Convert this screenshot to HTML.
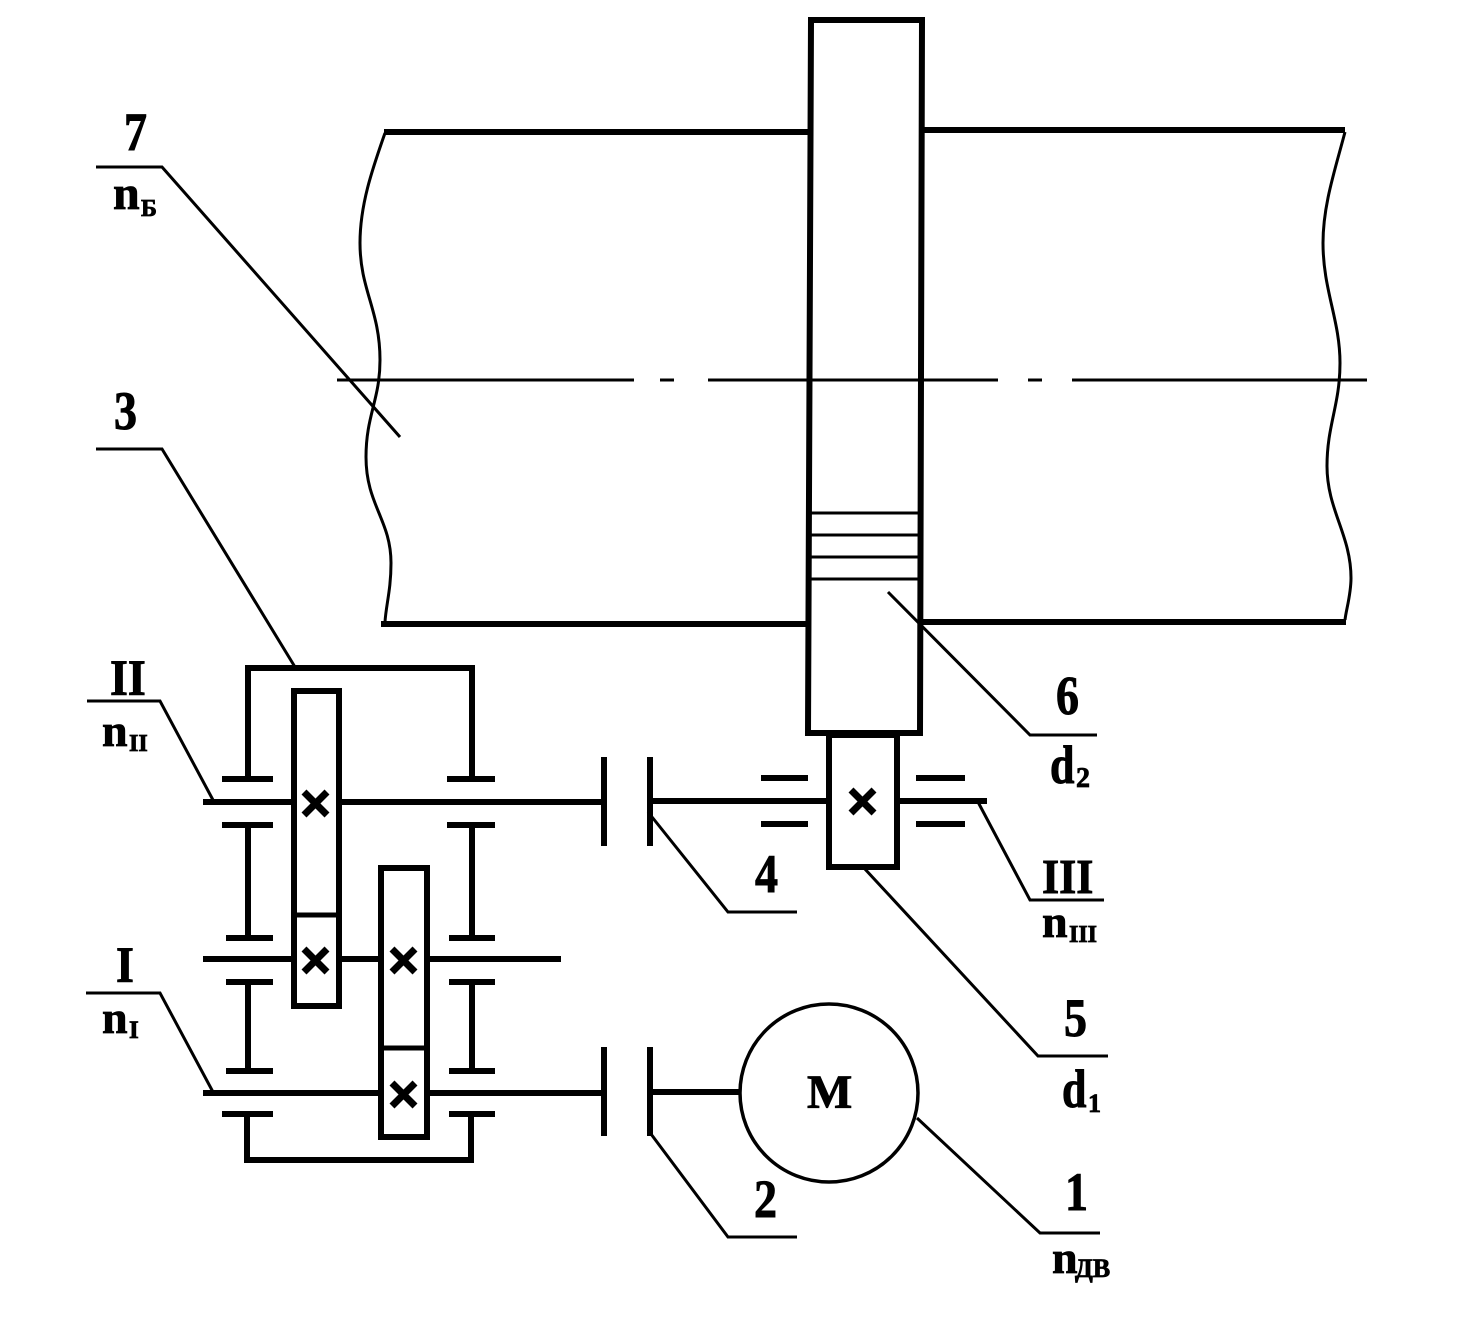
<!DOCTYPE html>
<html><head><meta charset="utf-8">
<style>html,body{margin:0;padding:0;background:#fff}svg{display:block}
text{font-family:"Liberation Serif",serif;font-weight:bold;fill:#000;stroke:#000;stroke-width:.8}</style></head>
<body>
<svg width="1462" height="1344" viewBox="0 0 1462 1344" xmlns="http://www.w3.org/2000/svg">
<g fill="none" stroke="#000" stroke-linecap="butt" stroke-linejoin="miter">
<!-- belt -->
<g stroke-width="6">
<path d="M384 132H809M922 130H1345M381 624H807M921 622H1346"/>
<path d="M811 20H922L920 733H808Z"/>
</g>
<g stroke-width="3">
<path d="M385 133C372 170 360 205 360 243C360 290 380 310 380 360C380 400 366 415 366 457C366 505 391 520 391 563C391 590 386 605 385 622"/>
<path d="M1345 132C1335 170 1323 205 1323 243C1323 290 1340 320 1340 363C1340 405 1327 425 1327 466C1327 510 1351 535 1351 578C1351 595 1346 610 1345 620"/>
<path d="M337 380H634M660 380H674M708 380H998M1028 380H1042M1072 380H1367"/>
<path d="M811 513H919M811 535H919M811 557H919M811 579H919"/>
<path d="M96 167H162L400 437"/>
<path d="M96 449H162L295 667"/>
<path d="M888 592L1030 735H1097"/>
<path d="M864 868L1038 1056H1108"/>
<path d="M917 1118L1040 1233H1100"/>
<path d="M648 1130L728 1237H797"/>
<path d="M648 812L728 912H797"/>
<path d="M978 802L1030 900H1104"/>
<path d="M87 701H160L213 800"/>
<path d="M86 993H160L213 1092"/>
</g>
<!-- gearbox -->
<g stroke-width="6">
<path d="M248 778V668H472V778"/>
<path d="M222 779H273M447 779H495M222 825H273M447 825H495"/>
<path d="M248 825V938M472 825V938"/>
<path d="M226 938H273M449 938H495M226 982H273M449 982H495"/>
<path d="M248 982V1071M472 982V1071"/>
<path d="M226 1071H273M449 1071H495M222 1114H273M449 1114H495"/>
<path d="M247 1114V1160H471V1114"/>
<rect x="294" y="691" width="45" height="315"/>
<path d="M294 915H339" stroke-width="5"/>
<rect x="381" y="868" width="46" height="269"/>
<path d="M381 1048H427" stroke-width="5"/>
<path d="M203 802H294M339 802H604M203 959H294M339 959H381M427 959H561M203 1093H381M427 1093H604"/>
<path d="M604 757V846M650 757V846M604 1047V1136M650 1047V1136"/>
<path d="M650 801H829M650 1092H741"/>
<rect x="829" y="735" width="68" height="132"/>
<path d="M897 801H987M761 778H808M761 824H808M916 778H965M916 824H965"/>
<path d="M304 792L327 815M327 792L304 815M304 949L327 972M327 949L304 972M392 949L415 972M415 949L392 972M392 1083L415 1106M415 1083L392 1106M851 790L874 813M874 790L851 813" stroke-width="7"/>
</g>
<circle cx="829" cy="1093" r="89" stroke-width="3.5"/>
</g>
<text transform="translate(124 150) scale(1 1.18)" font-size="46">7</text>
<text x="113" y="209" font-size="48">n</text><text x="141" y="216" font-size="24">Б</text>
<text transform="translate(114 429) scale(1 1.18)" font-size="46">3</text>
<text transform="translate(110 695) scale(1 1.1)" font-size="46">II</text>
<text x="102" y="746" font-size="46">n</text><text x="129" y="751" font-size="24">II</text>
<text transform="translate(116 982) scale(1 1.1)" font-size="46">I</text>
<text x="102" y="1033" font-size="46">n</text><text x="129" y="1038" font-size="25">I</text>
<text transform="translate(1056 714) scale(1 1.2)" font-size="46">6</text>
<text transform="translate(1050 783) scale(1 1.22)" font-size="44">d</text><text x="1076" y="787" font-size="28">2</text>
<text transform="translate(755 892) scale(1 1.18)" font-size="46">4</text>
<text transform="translate(1042 893) scale(1 1.1)" font-size="44">III</text>
<text x="1042" y="937" font-size="46">n</text><text x="1069" y="942" font-size="24">III</text>
<text transform="translate(1064 1036) scale(1 1.18)" font-size="46">5</text>
<text transform="translate(1062 1107) scale(1 1.22)" font-size="44">d</text><text x="1088" y="1112" font-size="26">1</text>
<text x="807" y="1108" font-size="48">M</text>
<text transform="translate(754 1217) scale(1 1.18)" font-size="46">2</text>
<text transform="translate(1065 1210) scale(1 1.18)" font-size="46">1</text>
<text x="1052" y="1273" font-size="46">n</text><text x="1075" y="1277" font-size="26">ДВ</text>
</svg>
</body></html>
